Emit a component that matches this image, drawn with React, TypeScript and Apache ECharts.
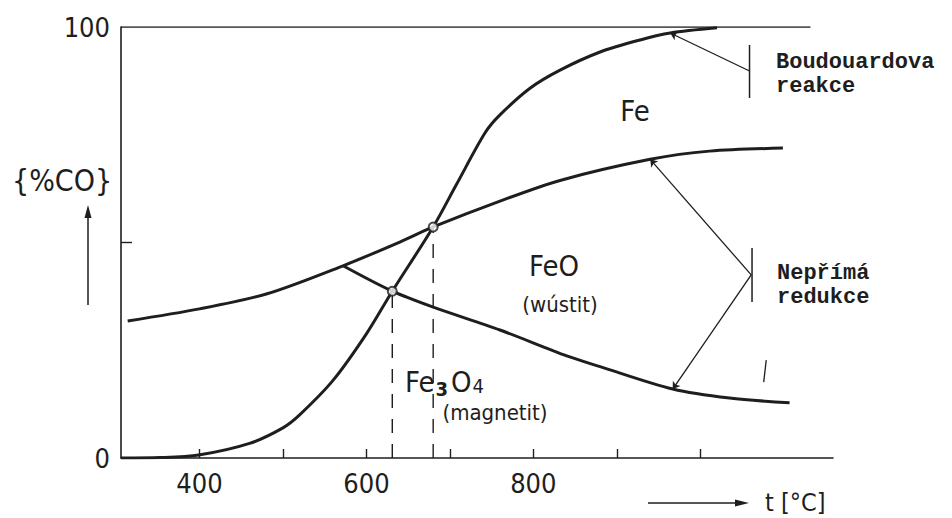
import { useEffect, useRef } from "react";
import * as echarts from "echarts";

// Axis ticks and labels
const tempTicks = [400, 500, 600, 700, 800, 900, 1000];
const tempLabels = [400, 600, 800];
const coTicks = [50];
const coLabels = [0, 100];
const tempMin = 306;
const tempMax = 1159;
const frameEndT = 1132;

// Boudouard equilibrium  C + CO2 = 2 CO
const boudouardT = [306, 353, 399, 460, 500, 520, 560, 600, 631, 680, 708, 742, 760, 796, 832, 880, 928, 964, 1020];
const boudouardCO = [0, 0.1, 0.7, 3.4, 7.0, 10.0, 18.0, 28.8, 38.7, 53.6, 63.5, 75.4, 79.6, 85.8, 90.0, 94.2, 97.0, 98.6, 99.8];

// FeO / Fe boundary
const wustiteFeT = [314, 400, 481, 572, 640, 680, 760, 832, 940, 1011, 1099];
const wustiteFeCO = [31.8, 34.6, 38.1, 44.6, 50.1, 53.6, 59.6, 64.4, 69.3, 71.2, 71.9];

// Fe3O4 / FeO boundary
const magnetiteWustiteT = [572, 631, 680, 760, 840, 880, 967, 1035, 1107];
const magnetiteWustiteCO = [44.6, 38.7, 35.0, 29.7, 23.7, 21.2, 16.0, 13.9, 12.8];

// Intersections of the reduction curves with the Boudouard curve
const crossT = [631, 680];
const crossCO = [38.7, 53.6];

// Annotation brackets and pointers (temperature, %CO)
const boudouardBracket = [[1059, 95.8], [1059, 83.5]];
const boudouardPointer = [[1059, 89.8], [964, 98.6]];
const indirectBracket = [[1062, 48.7], [1062, 36.2]];
const indirectPointers = [
  [[1061, 42.5], [940, 69.3]],
  [[1061, 42.5], [967, 16.0]],
];
const strayMark = [[1079, 22.7], [1076, 17.6]];

const zip = (xs: number[], ys: number[]) => xs.map((x, i) => [x, ys[i]]);

const INK = "#1e1e1e";
const DRAW_FONT = "'Liberation Sans Narrow', 'DejaVu Sans Condensed', Roboto, sans-serif";
const TYPE_FONT = "'Liberation Mono', 'DejaVu Sans Mono', monospace";

const curve = (name: string, data: number[][]) => ({
  name,
  type: "line",
  data,
  smooth: 0.3,
  showSymbol: false,
  symbol: "none",
  lineStyle: { color: INK, width: 3 },
  z: 5,
});

const thin = (name: string, data: number[][], width = 1.3) => ({
  name,
  type: "line",
  data,
  showSymbol: false,
  symbol: "none",
  lineStyle: { color: INK, width },
  z: 4,
});

const centered = (text: string, x: number, y: number, size: number) => ({
  type: "text",
  x,
  y,
  style: {
    text,
    fill: INK,
    font: `${size}px ${DRAW_FONT}`,
    align: "center",
    verticalAlign: "middle",
    textAlign: "center",
    textVerticalAlign: "middle",
  },
});

const typed = (text: string, x: number, y: number) => ({
  type: "text",
  x,
  y,
  style: {
    text,
    fill: INK,
    font: `bold 22px ${TYPE_FONT}`,
    align: "left",
    verticalAlign: "top",
    textAlign: "left",
    textVerticalAlign: "top",
  },
});

const option = {
  animation: false,
  backgroundColor: "#ffffff",
  grid: { left: 121, right: 119, top: 27, bottom: 60 },
  xAxis: {
    type: "value",
    min: tempMin,
    max: tempMax,
    axisLine: { show: true, lineStyle: { color: INK, width: 1.6 } },
    axisTick: { show: true, inside: true, length: 9, customValues: tempTicks, lineStyle: { color: INK, width: 1.4 } },
    axisLabel: { show: true, customValues: tempLabels, margin: 12, fontSize: 27, fontFamily: DRAW_FONT, color: INK },
    splitLine: { show: false },
  },
  yAxis: {
    type: "value",
    min: 0,
    max: 100,
    axisLine: { show: true, lineStyle: { color: INK, width: 1.6 } },
    axisTick: { show: true, inside: true, length: 11, customValues: coTicks, lineStyle: { color: INK, width: 1.4 } },
    axisLabel: { show: true, customValues: coLabels, margin: 11, fontSize: 27, fontFamily: DRAW_FONT, color: INK },
    splitLine: { show: false },
  },
  series: [
    {
      ...thin("frame", [[tempMin, 100], [frameEndT, 100]], 1.5),
      markLine: {
        silent: true,
        symbol: ["none", "arrow"],
        symbolSize: 7,
        label: { show: false },
        lineStyle: { color: INK, width: 1.3, type: "solid" },
        data: [boudouardPointer, ...indirectPointers].map((seg) => [
          { coord: seg[0] },
          { coord: seg[1] },
        ]),
      },
    },
    {
      name: "dash-1",
      type: "line",
      data: [[crossT[0], 0], [crossT[0], crossCO[0]]],
      symbol: "none",
      lineStyle: { color: INK, width: 1.4, type: [14, 11] },
      z: 3,
    },
    {
      name: "dash-2",
      type: "line",
      data: [[crossT[1], 0], [crossT[1], crossCO[1]]],
      symbol: "none",
      lineStyle: { color: INK, width: 1.4, type: [14, 11] },
      z: 3,
    },
    thin("bracket-boudouard", boudouardBracket, 1.5),
    thin("bracket-indirect", indirectBracket, 1.5),
    thin("mark", strayMark, 1.3),
    curve("Boudouard", zip(boudouardT, boudouardCO)),
    curve("FeO/Fe", zip(wustiteFeT, wustiteFeCO)),
    curve("Fe3O4/FeO", zip(magnetiteWustiteT, magnetiteWustiteCO)),
    {
      name: "points",
      type: "scatter",
      data: zip(crossT, crossCO),
      symbol: "circle",
      symbolSize: 9,
      itemStyle: { color: "#ffffff", borderColor: INK, borderWidth: 2 },
      z: 10,
    },
  ],
  graphic: [
    centered("{%CO}", 62, 180, 30),
    { type: "line", shape: { x1: 88, y1: 305, x2: 88, y2: 214 }, style: { stroke: INK, lineWidth: 1.5 } },
    { type: "polygon", shape: { points: [[88, 205], [84.5, 218], [91.5, 218]] }, style: { fill: INK } },
    { type: "line", shape: { x1: 648, y1: 503, x2: 738, y2: 503 }, style: { stroke: INK, lineWidth: 1.5 } },
    { type: "polygon", shape: { points: [[749, 503], [735, 499.5], [735, 506.5]] }, style: { fill: INK } },
    {
      type: "text",
      x: 765,
      y: 502,
      style: { text: "t [°C]", fill: INK, font: `25px ${DRAW_FONT}`, align: "left", verticalAlign: "middle", textAlign: "left", textVerticalAlign: "middle" },
    },
    centered("Fe", 635, 111, 29),
    centered("FeO", 554, 266, 29),
    centered("(wústit)", 560, 304, 22),
    {
      type: "text",
      x: 405,
      y: 382,
      style: {
        text: "{a|Fe}{s|3}{a|O}{t|4}",
        fill: INK,
        align: "left",
        verticalAlign: "middle",
        textAlign: "left",
        textVerticalAlign: "middle",
        rich: {
          a: { fontSize: 29, fontFamily: DRAW_FONT, fill: INK, color: INK },
          s: { fontSize: 20, fontWeight: "bold", fontFamily: DRAW_FONT, fill: INK, color: INK, padding: [14, 3, 0, 1] },
          t: { fontSize: 20, fontFamily: DRAW_FONT, fill: INK, color: INK, padding: [8, 0, 0, 1] },
        },
      },
    },
    centered("(magnetit)", 495, 412, 22),
    typed("Boudouardova", 776, 51),
    typed("reakce", 776, 75),
    typed("Nepřímá", 777, 262),
    typed("redukce", 777, 286),
  ],
};

export default function App() {
  const ref = useRef<HTMLDivElement>(null);
  useEffect(() => {
    if (!ref.current) return;
    const chart = echarts.init(ref.current, null, { renderer: "svg" });
    chart.setOption(option as any);
    return () => chart.dispose();
  }, []);
  return (
    <div
      ref={ref}
      style={{ position: "fixed", left: 0, top: 0, width: 952, height: 518, background: "#fff" }}
    />
  );
}
